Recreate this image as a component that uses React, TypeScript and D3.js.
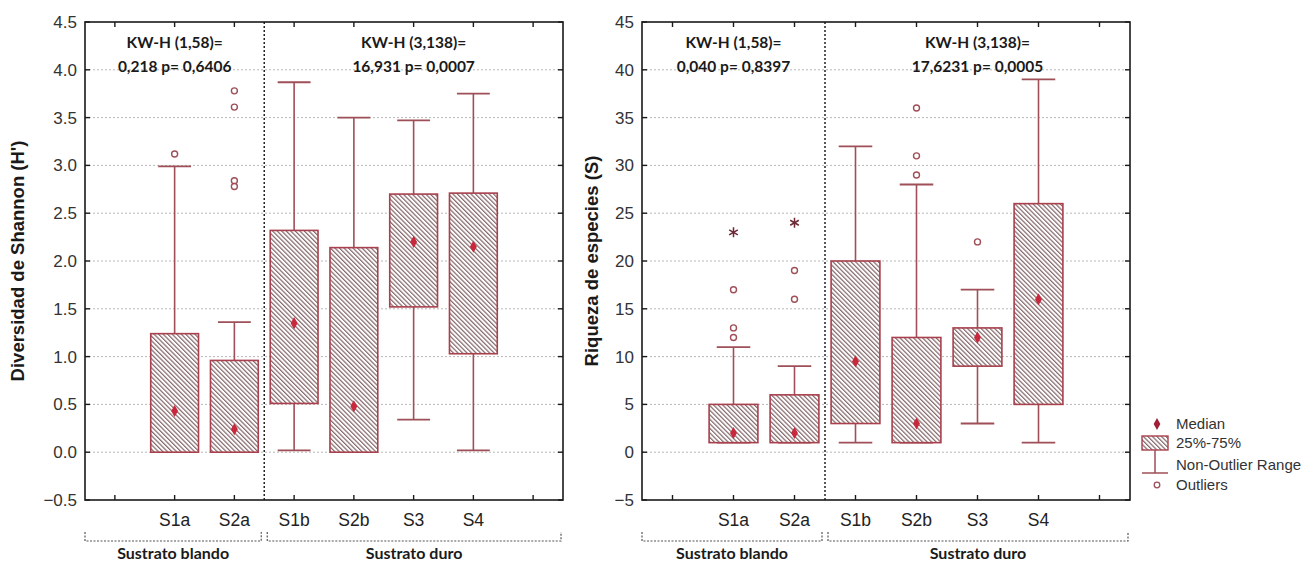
import * as d3 from "d3";

// categories and groups
const categories = ["S1a", "S2a", "S1b", "S2b", "S3", "S4"];
const groupLabels = ["Sustrato blando", "Sustrato duro"];
const groupSizes = [2, 4];

// Shannon diversity (H')
const shannonTicks = [-0.5, 0.0, 0.5, 1.0, 1.5, 2.0, 2.5, 3.0, 3.5, 4.0, 4.5];
const shannonMin = [0, 0, 0.02, 0, 0.34, 0.02];
const shannonQ1 = [0, 0, 0.51, 0, 1.52, 1.03];
const shannonMedian = [0.43, 0.24, 1.35, 0.48, 2.2, 2.15];
const shannonQ3 = [1.24, 0.96, 2.32, 2.14, 2.7, 2.71];
const shannonMax = [2.99, 1.36, 3.87, 3.5, 3.47, 3.75];
const shannonOutliers = [[3.12], [3.78, 3.61, 2.84, 2.78], [], [], [], []];
const shannonExtremes: number[][] = [[], [], [], [], [], []];
const shannonTests = [
  ["KW-H (1,58)=", "0,218 p= 0,6406"],
  ["KW-H (3,138)=", "16,931 p= 0,0007"],
];

// species richness (S)
const riquezaTicks = [-5, 0, 5, 10, 15, 20, 25, 30, 35, 40, 45];
const riquezaMin = [1, 1, 1, 1, 3, 1];
const riquezaQ1 = [1, 1, 3, 1, 9, 5];
const riquezaMedian = [2, 2, 9.5, 3, 12, 16];
const riquezaQ3 = [5, 6, 20, 12, 13, 26];
const riquezaMax = [11, 9, 32, 28, 17, 39];
const riquezaOutliers = [[12, 13, 17], [16, 19], [], [29, 31, 36], [22], []];
const riquezaExtremes = [[23], [24], [], [], [], []];
const riquezaTests = [
  ["KW-H (1,58)=", "0,040 p= 0,8397"],
  ["KW-H (3,138)=", "17,6231 p= 0,0005"],
];

const legendLabels = ["Median", "25%-75%", "Non-Outlier Range", "Outliers"];

const boxStroke = "#a8404d";
const whiskerColor = "#9e4f57";
const medianColor = "#c8283c";
const tickFont = "Arial, 'Liberation Sans', sans-serif";
const boldFont = "Lato, 'Open Sans', sans-serif";

const diamond = d3.symbol().type(d3.symbolDiamond).size(42)();
const asterisk = d3.symbol().type(d3.symbolAsterisk).size(70)();

function Panel({ x0, x1, top, bottom, ticks, fmt, title, titleX, min, q1, med, q3, max, outliers, extremes, tests }) {
  const y = d3.scaleLinear().domain([ticks[0], ticks[ticks.length - 1]]).range([bottom, top]);
  const x = d3.scalePoint().domain(categories).range([x0, x1]).padding(1.5);
  const step = x.step();
  const tickXs = d3.range(8).map((i) => x0 + (i + 0.5) * step);
  const boxW = step * 0.8;
  const capW = step * 0.55;
  const divider = (x(categories[1]) + x(categories[2])) / 2;
  const groupSpans = [
    [x0, divider],
    [divider, x1],
  ];

  return (
    <g>
      {/* grid */}
      {ticks.slice(1, -1).map((t) => (
        <line key={"g" + t} x1={x0} x2={x1} y1={y(t)} y2={y(t)} stroke="#b8b8b8" strokeDasharray="2,2" strokeWidth={1} />
      ))}
      <line x1={divider} x2={divider} y1={top} y2={bottom} stroke="#222" strokeDasharray="2,2" strokeWidth={1.5} />

      {/* boxes */}
      {categories.map((c, i) => {
        const cx = x(c);
        return (
          <g key={c}>
            <line x1={cx} x2={cx} y1={y(max[i])} y2={y(q3[i])} stroke={whiskerColor} strokeWidth={1.6} />
            <line x1={cx} x2={cx} y1={y(q1[i])} y2={y(min[i])} stroke={whiskerColor} strokeWidth={1.6} />
            <line x1={cx - capW / 2} x2={cx + capW / 2} y1={y(max[i])} y2={y(max[i])} stroke={whiskerColor} strokeWidth={1.8} />
            <line x1={cx - capW / 2} x2={cx + capW / 2} y1={y(min[i])} y2={y(min[i])} stroke={whiskerColor} strokeWidth={1.8} />
            <rect x={cx - boxW / 2} y={y(q3[i])} width={boxW} height={y(q1[i]) - y(q3[i])} fill="url(#hatch)" stroke={boxStroke} strokeWidth={1.6} />
            <path d={diamond} transform={`translate(${cx},${y(med[i])})`} fill={medianColor} />
            {outliers[i].map((v, j) => (
              <circle key={j} cx={cx} cy={y(v)} r={3} fill="#fff" stroke={whiskerColor} strokeWidth={1.4} />
            ))}
            {extremes[i].map((v, j) => (
              <path key={j} d={asterisk} transform={`translate(${cx},${y(v)})`} fill="none" stroke="#6e2a36" strokeWidth={1.5} />
            ))}
          </g>
        );
      })}

      {/* frame + inward ticks */}
      <rect x={x0} y={top} width={x1 - x0} height={bottom - top} fill="none" stroke="#1a1a1a" strokeWidth={1.6} />
      {ticks.map((t) => (
        <g key={"t" + t}>
          <line x1={x0} x2={x0 + 5} y1={y(t)} y2={y(t)} stroke="#1a1a1a" strokeWidth={1.4} />
          <line x1={x1} x2={x1 - 5} y1={y(t)} y2={y(t)} stroke="#1a1a1a" strokeWidth={1.4} />
          <text x={x0 - 8} y={y(t)} dy="0.35em" textAnchor="end" fontFamily={tickFont} fontSize={17} fill="#333">
            {fmt(t)}
          </text>
        </g>
      ))}
      {tickXs.map((tx, i) => (
        <g key={"x" + i}>
          <line x1={tx} x2={tx} y1={bottom} y2={bottom - 5} stroke="#1a1a1a" strokeWidth={1.4} />
          <line x1={tx} x2={tx} y1={top} y2={top + 5} stroke="#1a1a1a" strokeWidth={1.4} />
        </g>
      ))}
      {categories.map((c) => (
        <text key={"l" + c} x={x(c)} y={526} textAnchor="middle" fontFamily={tickFont} fontSize={17.5} fill="#222">
          {c}
        </text>
      ))}

      {/* test annotations */}
      {tests.map((lines, gi) => {
        const cx = (groupSpans[gi][0] + groupSpans[gi][1]) / 2;
        return (
          <text key={"k" + gi} textAnchor="middle" fontFamily={boldFont} fontWeight={700} fontSize={15.5} fill="#1a1a1a">
            <tspan x={cx} y={48}>{lines[0]}</tspan>
            <tspan x={cx} y={72}>{lines[1]}</tspan>
          </text>
        );
      })}

      {/* group brackets */}
      {groupLabels.map((g, gi) => {
        const a = groupSpans[gi][0] + (gi === 0 ? 0 : 3);
        const b = groupSpans[gi][1] - (gi === 0 ? 3 : 2);
        return (
          <g key={g}>
            <path d={`M${a},532V541H${b}V532`} fill="none" stroke="#555" strokeWidth={1.2} strokeDasharray="2,1.5" />
            <text x={(a + b) / 2} y={559} textAnchor="middle" fontFamily={boldFont} fontWeight={700} fontSize={16} fill="#1a1a1a">
              {g}
            </text>
          </g>
        );
      })}

      <text
        transform={`translate(${titleX},${(top + bottom) / 2}) rotate(-90)`}
        textAnchor="middle"
        fontFamily={tickFont}
        fontWeight={700}
        fontSize={18.5}
        fill="#1a1a1a"
      >
        {title}
      </text>
    </g>
  );
}

function Legend({ x, y }) {
  const tx = x + 34;
  return (
    <g fontFamily={tickFont} fontSize={15} fill="#333">
      <path d={d3.symbol().type(d3.symbolDiamond).size(40)()} transform={`translate(${x + 15},${y})`} fill="#a01e36" />
      <text x={tx} y={y} dy="0.35em">{legendLabels[0]}</text>
      <rect x={x} y={y + 12} width={26} height={14} fill="url(#hatch)" stroke={boxStroke} strokeWidth={1.4} />
      <text x={tx} y={y + 19} dy="0.35em">{legendLabels[1]}</text>
      <line x1={x + 13} x2={x + 13} y1={y + 26} y2={y + 49} stroke={whiskerColor} strokeWidth={1.5} />
      <line x1={x} x2={x + 26} y1={y + 49} y2={y + 49} stroke={whiskerColor} strokeWidth={1.5} />
      <text x={tx} y={y + 41} dy="0.35em">{legendLabels[2]}</text>
      <circle cx={x + 15} cy={y + 61} r={2.8} fill="#fff" stroke={whiskerColor} strokeWidth={1.3} />
      <text x={tx} y={y + 61} dy="0.35em">{legendLabels[3]}</text>
    </g>
  );
}

export default function App() {
  return (
    <svg width={1314} height={563} style={{ position: "absolute", left: 0, top: 0, background: "#fff" }}>
      <defs>
        <pattern id="hatch" patternUnits="userSpaceOnUse" width={3.2} height={3.2} patternTransform="rotate(-45)">
          <rect width={3.2} height={3.2} fill="#fff" />
          <line x1={0.6} x2={0.6} y1={0} y2={3.2} stroke="#85696c" strokeWidth={1.25} />
        </pattern>
      </defs>
      <Panel
        x0={85}
        x1={563}
        top={22}
        bottom={500}
        ticks={shannonTicks}
        fmt={d3.format(".1f")}
        title="Diversidad de Shannon (H')"
        titleX={24}
        min={shannonMin}
        q1={shannonQ1}
        med={shannonMedian}
        q3={shannonQ3}
        max={shannonMax}
        outliers={shannonOutliers}
        extremes={shannonExtremes}
        tests={shannonTests}
      />
      <Panel
        x0={642}
        x1={1130}
        top={22}
        bottom={500}
        ticks={riquezaTicks}
        fmt={d3.format("d")}
        title="Riqueza de especies (S)"
        titleX={598}
        min={riquezaMin}
        q1={riquezaQ1}
        med={riquezaMedian}
        q3={riquezaQ3}
        max={riquezaMax}
        outliers={riquezaOutliers}
        extremes={riquezaExtremes}
        tests={riquezaTests}
      />
      <Legend x={1142} y={424} />
    </svg>
  );
}
